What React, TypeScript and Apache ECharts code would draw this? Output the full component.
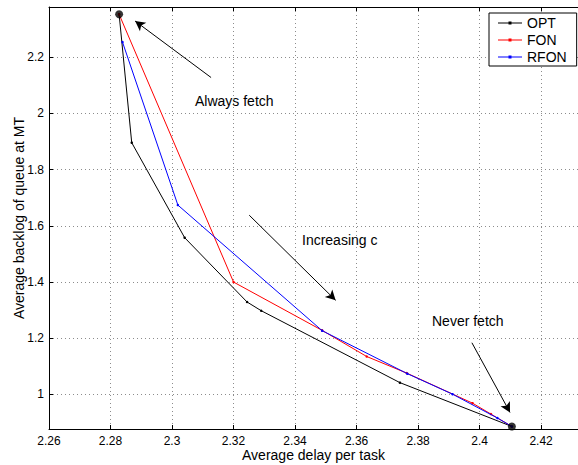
import React, { useEffect, useRef } from "react";
import * as echarts from "echarts";

const optData: [number, number][] = [
  [2.2828, 2.353], [2.2869, 1.896], [2.3041, 1.558], [2.3244, 1.329],
  [2.329, 1.298], [2.3741, 1.042], [2.4105, 0.886],
];
const fonData: [number, number][] = [
  [2.2828, 2.353], [2.32, 1.4], [2.3488, 1.228], [2.3633, 1.135],
  [2.3763, 1.076], [2.3977, 0.969], [2.4037, 0.93], [2.4105, 0.886],
];
const rfonData: [number, number][] = [
  [2.2839, 2.254], [2.3019, 1.674], [2.3488, 1.227], [2.3765, 1.074],
  [2.3912, 1.001], [2.4058, 0.916], [2.4105, 0.886],
];
const endpoints: [number, number][] = [[2.2828, 2.353], [2.4105, 0.886]];
const arrows: [number, number, number, number][] = [
  [2.3127, 2.128, 2.288, 2.329],
  [2.3251, 1.638, 2.3532, 1.335],
  [2.3975, 1.184, 2.4099, 0.936],
];
const seriesNames = ["OPT", "FON", "RFON"];
const seriesColors = ["#000000", "#ff0000", "#0000ff"];
const xRange = [2.26, 2.432];
const yRange = [0.877, 2.379];

const FONT = "'Liberation Sans', Arial, Helvetica, sans-serif";
const LEGEND_ICON = "path://M0,5.5h24v1h-24z M10.5,4.5h3v3h-3z";

export default function App() {
  const ref = useRef<HTMLDivElement>(null);
  useEffect(() => {
    if (!ref.current) return;
    const chart = echarts.init(ref.current, null, { renderer: "svg" });
    const grid = "#8c8c8c";
    const dataSets = [optData, fonData, rfonData];
    chart.setOption({
      animation: false,
      textStyle: { fontFamily: FONT },
      grid: { left: 49, top: 7, right: 0, bottom: 36, containLabel: false, outerBoundsMode: "none" },
      legend: {
        data: seriesNames.map((n) => ({ name: n, icon: LEGEND_ICON })),
        orient: "vertical",
        left: 489,
        top: 13,
        borderColor: "#000",
        borderWidth: 1,
        backgroundColor: "#fff",
        padding: [3, 10, 2, 9],
        itemWidth: 24,
        itemHeight: 12,
        itemGap: 3,
        textStyle: { fontSize: 14, color: "#000", fontFamily: FONT },
      },
      xAxis: [
        {
          type: "value",
          min: xRange[0],
          max: xRange[1],
          interval: 0.02,
          name: "Average delay per task",
          nameLocation: "middle",
          nameGap: 19,
          nameMoveOverlap: false,
          nameTextStyle: { fontSize: 14, color: "#000", fontFamily: FONT },
          axisLine: { show: true, onZero: false, lineStyle: { color: "#000", width: 1 } },
          axisTick: { inside: true, length: 4, lineStyle: { color: "#000" } },
          axisLabel: { fontSize: 12, color: "#000", margin: 6, showMaxLabel: false, fontFamily: FONT },
          splitLine: { show: true, lineStyle: { color: grid, type: [1, 3], width: 1 } },
        },
        {
          type: "value",
          position: "top",
          min: xRange[0],
          max: xRange[1],
          interval: 0.02,
          axisLine: { show: true, onZero: false, lineStyle: { color: "#000", width: 1 } },
          axisTick: { inside: true, length: 4, lineStyle: { color: "#000" } },
          axisLabel: { show: false },
          splitLine: { show: false },
        },
      ],
      yAxis: {
        type: "value",
        min: yRange[0],
        max: yRange[1],
        splitNumber: 7,
        name: "Average backlog of queue at MT",
        nameLocation: "middle",
        nameGap: 23,
        nameMoveOverlap: false,
        nameTextStyle: { fontSize: 14, color: "#000", fontFamily: FONT },
        axisLine: { show: true, onZero: false, lineStyle: { color: "#000", width: 1 } },
        axisTick: { inside: true, length: 4, lineStyle: { color: "#000" } },
        axisLabel: {
          fontSize: 12, color: "#000", margin: 5, showMinLabel: false, showMaxLabel: false, fontFamily: FONT,
          formatter: (v: number) => String(Math.round(v * 10) / 10),
        },
        splitLine: { show: true, lineStyle: { color: grid, type: [1, 3], width: 1 } },
      },
      series: [
        ...seriesNames.map((name, i) => ({
          name,
          type: "line",
          data: dataSets[i],
          symbol: "circle",
          symbolSize: 2.5,
          lineStyle: { color: seriesColors[i], width: 1 },
          itemStyle: { color: seriesColors[i] },
          z: 3 + i,
        })),
        {
          name: "endpoints",
          type: "scatter",
          data: endpoints,
          symbolSize: 8,
          itemStyle: { color: "#000" },
          z: 10,
          markLine: {
            silent: true,
            symbol: ["none", "arrow"],
            symbolSize: [8, 10],
            label: { show: false },
            lineStyle: { color: "#000", width: 1, type: "solid" },
            data: arrows.map(([x1, y1, x2, y2]) => [
              { coord: [x1, y1] },
              { coord: [x2, y2] },
            ]),
          },
        },
      ],
      graphic: [
        { type: "text", left: 195, top: 94, style: { text: "Always fetch", fontSize: 14, fill: "#000", fontFamily: FONT } },
        { type: "text", left: 302, top: 233, style: { text: "Increasing c", fontSize: 14, fill: "#000", fontFamily: FONT } },
        { type: "text", left: 432, top: 314, style: { text: "Never fetch", fontSize: 14, fill: "#000", fontFamily: FONT } },
      ],
    });
    return () => chart.dispose();
  }, []);
  return (
    <div
      ref={ref}
      style={{ position: "absolute", left: 0, top: 0, width: 578, height: 465 }}
    />
  );
}
